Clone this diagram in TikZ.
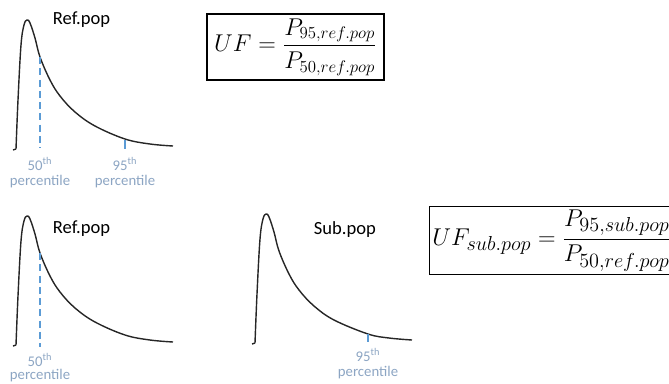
\documentclass[tikz,border=0pt]{standalone}
\usepackage[no-math]{fontspec}
\setmainfont{Carlito}
\usepackage{amsmath}
\usepackage{xcolor}
\definecolor{pctblue}{RGB}{91,155,213}
\definecolor{pctgray}{RGB}{140,165,195}

\tikzset{
  distcurve/.style={line width=1pt, black!85},
  pctline/.style={pctblue, line width=1.2pt, dash pattern=on 5pt off 3pt},
  pcttick/.style={pctblue, line width=1.2pt},
  pctlabel/.style={pctgray, font=\fontsize{10.5}{12}\selectfont, inner sep=0pt},
  poplabel/.style={font=\fontsize{13.2}{15}\selectfont, anchor=west},
  ufbox/.style={draw, line width=0.9pt, inner sep=2pt, font=\fontsize{17.3}{20}\selectfont}
}

\begin{document}
\begin{tikzpicture}[x=0.025cm, y=-0.025cm]
  \useasboundingbox (0,0) rectangle (669,383);
  \clip (0,0) rectangle (669,383);

  % reference population, top row
  \draw[distcurve] (13,150) -- (16,149)
    plot[smooth, tension=0.6] coordinates {(16,149) (18,100) (21,45) (24,25) (27,20) (30,23) (35,38) (40,57)
      (50,80) (60,96) (75,112) (95,126) (125,139) (150,144) (173,146)};
  \coordinate (top50) at (40,57);
  \coordinate (top50b) at (40,148);
  \draw[pctline] (top50) -- (top50b);
  \coordinate (top95) at (125,140);
  \coordinate (top95b) at (125,149);
  \draw[pcttick] (top95) -- (top95b);
  \node[poplabel] (refpopA) at (48,20) {Ref.pop};
  \node[pctlabel] (numA50) at (40,164) {50\textsuperscript{th}};
  \node[pctlabel] (lblA50) at (40,182) {percentile};
  \node[pctlabel] (numA95) at (125,164) {95\textsuperscript{th}};
  \node[pctlabel] (lblA95) at (125,182) {percentile};

  \node[ufbox, minimum width=177*0.025cm, minimum height=66*0.025cm] (ufref) at (295.5,47)
    {$UF=\dfrac{P_{95,ref.pop}}{P_{50,ref.pop}}$};

  % reference population, bottom row
  \begin{scope}[shift={(0,196)}]
    \draw[distcurve] (13,150) -- (16,149)
      plot[smooth, tension=0.6] coordinates {(16,149) (18,100) (21,45) (24,25) (27,20) (30,23) (35,38) (40,57)
        (50,80) (60,96) (75,112) (95,126) (125,139) (150,144) (173,146)};
    \coordinate (bot50) at (40,57);
    \coordinate (bot50b) at (40,151);
  \end{scope}
  \draw[pctline] (bot50) -- (bot50b);
  \node[poplabel] (refpopB) at (48,229) {Ref.pop};
  \node[pctlabel] (numB50) at (40,360) {50\textsuperscript{th}};
  \node[pctlabel] (lblB50) at (40,376) {percentile};

  % sub population
  \begin{scope}[shift={(239,194)}]
    \draw[distcurve] (13,150) -- (16,149)
      plot[smooth, tension=0.6] coordinates {(16,149) (18,100) (21,45) (24,25) (27,20) (30,23) (35,38) (40,57)
        (50,80) (60,96) (75,112) (95,126) (129,140) (150,144) (173,146)};
    \coordinate (sub95) at (129,140);
    \coordinate (sub95b) at (129,148);
  \end{scope}
  \draw[pcttick] (sub95) -- (sub95b);
  \node[poplabel] (subpop) at (309,230) {Sub.pop};
  \node[pctlabel] (numS95) at (368,355) {95\textsuperscript{th}};
  \node[pctlabel] (lblS95) at (368,373) {percentile};

  \node[ufbox, anchor=west, minimum height=65*0.025cm, font=\fontsize{19}{22}\selectfont] (ufsub) at (429,240.5)
    {$UF_{sub.pop}=\dfrac{P_{95,sub.pop}}{P_{50,ref.pop}}$};
\end{tikzpicture}
\end{document}
